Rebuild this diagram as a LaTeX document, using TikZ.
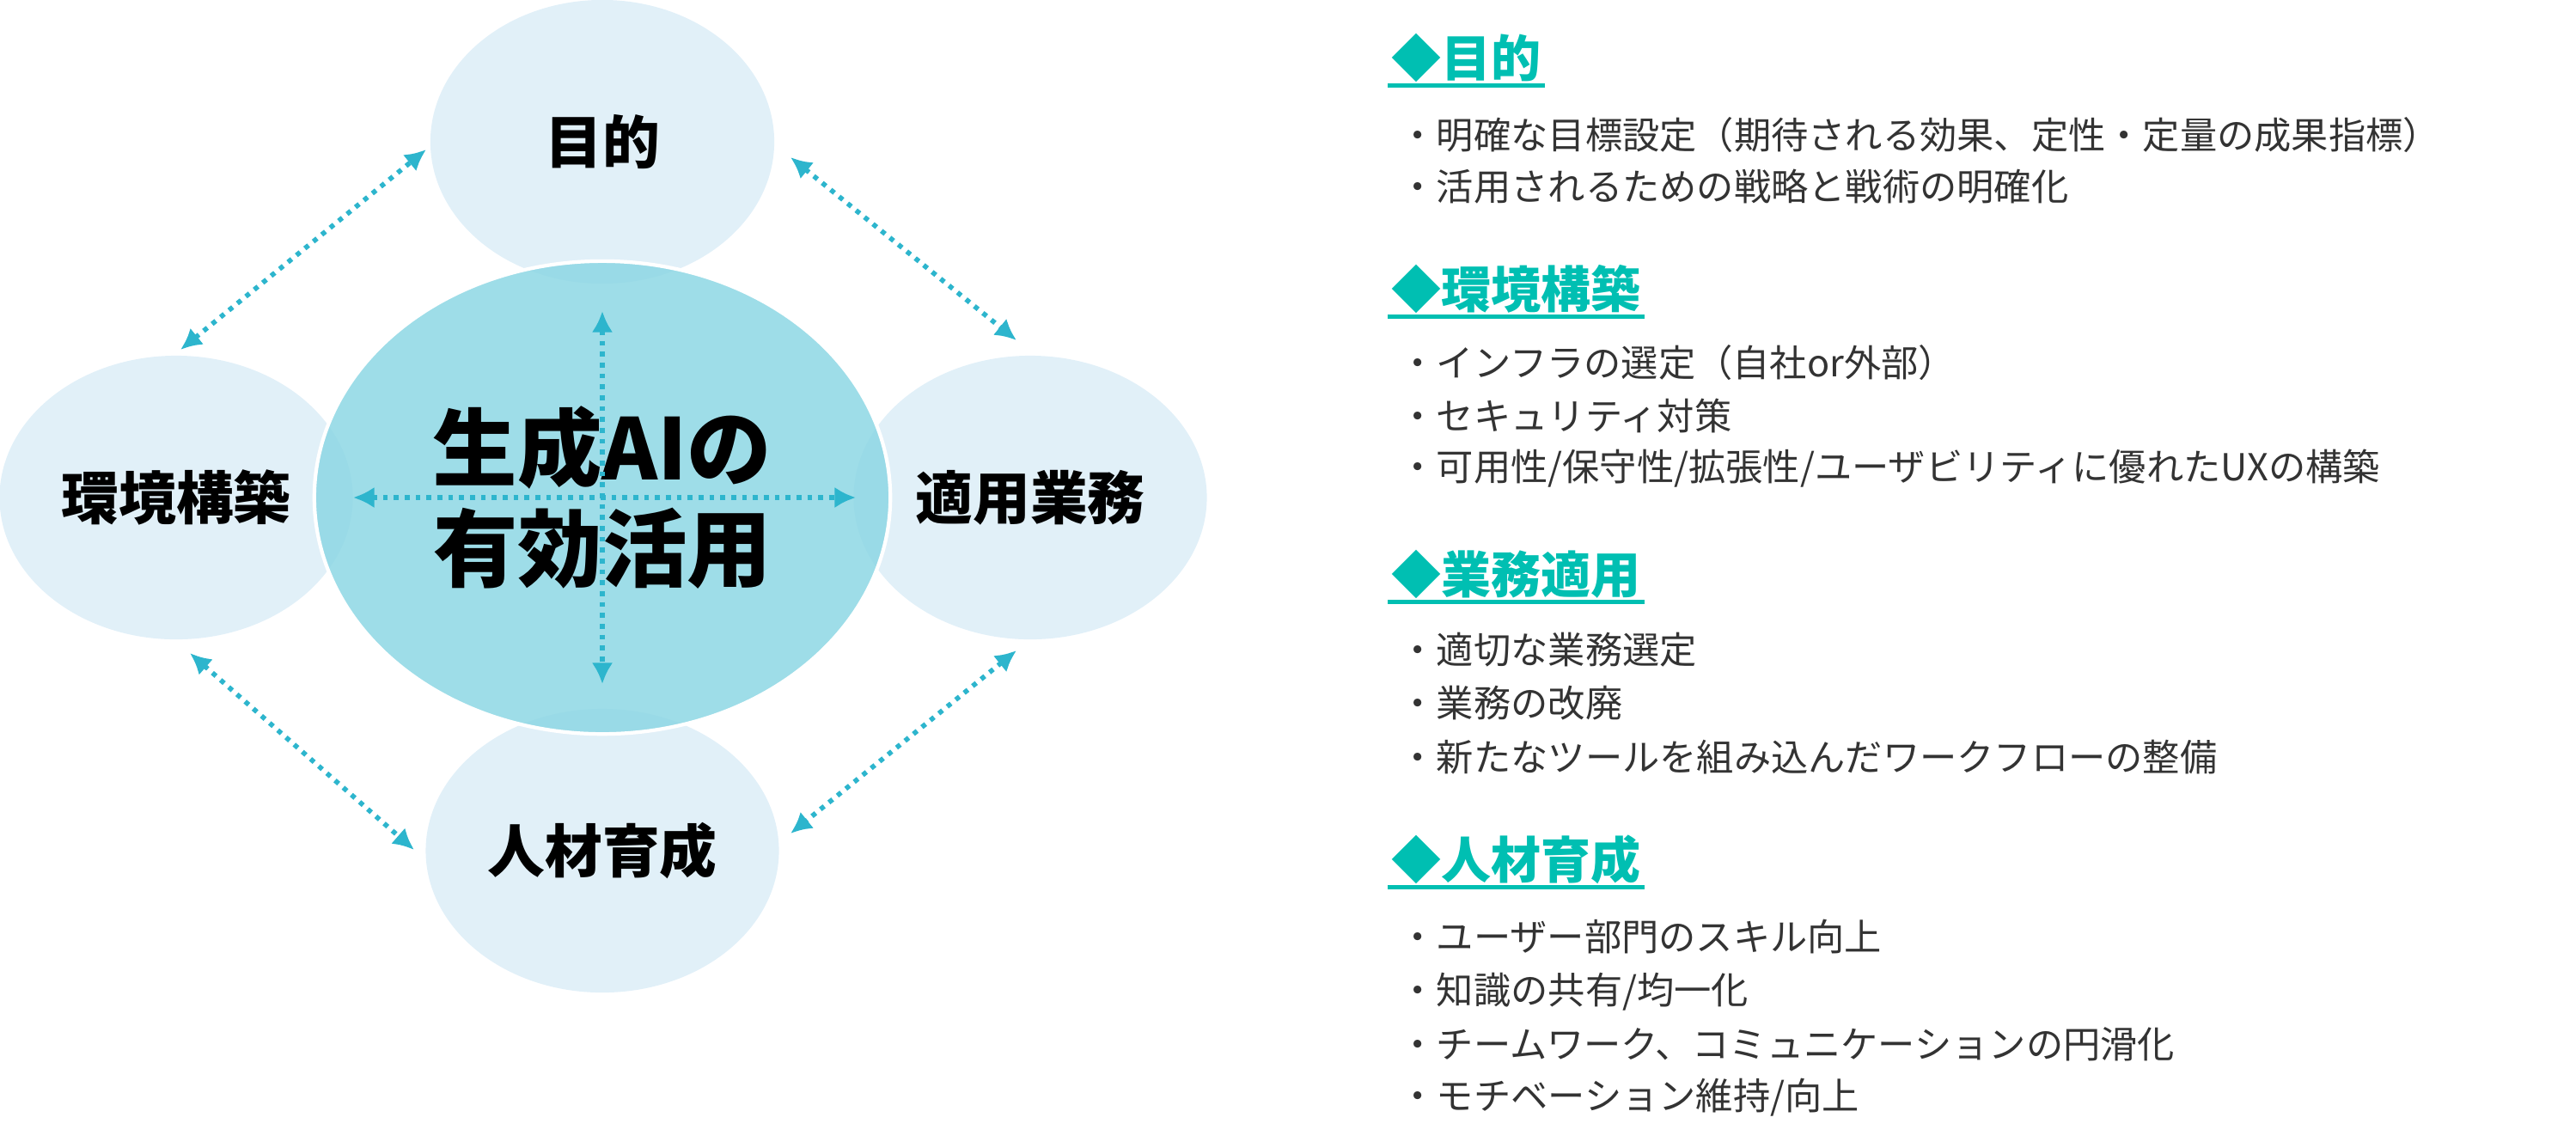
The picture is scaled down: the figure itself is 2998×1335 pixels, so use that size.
\documentclass[tikz,border=0pt]{standalone}
\usepackage{fontspec}
\setmainfont{Noto Sans CJK JP}
\usetikzlibrary{arrows.meta,shapes.geometric}
\definecolor{pale}{HTML}{DCEDF7}
\definecolor{core}{HTML}{8DD7E4}
\definecolor{link}{HTML}{2DB5CD}
\definecolor{teal}{HTML}{00BFB2}
\definecolor{ink}{HTML}{333333}

\begin{document}
\begin{tikzpicture}
    [x=0.01cm, y=-0.01cm,
     satellite/.style={ellipse, fill=pale, fill opacity=0.85, text opacity=1,
       minimum width=4cm, minimum height=3.3cm, font=\fontsize{19}{19}\selectfont\bfseries},
     hub/.style={ellipse, fill=core, fill opacity=0.85, draw=white, line width=1.2pt,
       minimum width=6.7cm, minimum height=5.5cm},
     link/.style={draw=link, line width=1.6pt, dotted, {Latex[length=7pt,width=7pt]}-{Latex[length=7pt,width=7pt]}},
     heading/.style={anchor=west, inner sep=1pt, text=teal, font=\fontsize{16.5}{16.5}\selectfont\bfseries},
     item/.style={anchor=west, inner sep=0pt, text=ink, font=\fontsize{12.3}{12.3}\selectfont}]
  \useasboundingbox (0,0) rectangle (2998,1335);

  \node (goal) [satellite] at (701,165) {目的};
  \node (env)  [satellite] at (205,579) {環境構築};
  \node (ops)  [satellite] at (1199,579) {適用業務};
  \node (hr)   [satellite] at (701,990) {人材育成};
  \node (core) [hub] at (701,579) {};
  \node (title) at (701,579) [align=center, font=\fontsize{28}{33}\selectfont\bfseries] {生成AIの\\有効活用};

  % connectors around
  \coordinate (a1) at (210,407);  \coordinate (a2) at (496,174);
  \coordinate (b1) at (920,183);  \coordinate (b2) at (1183,396);
  \coordinate (c1) at (221,760);  \coordinate (c2) at (482,989);
  \coordinate (d1) at (1183,757); \coordinate (d2) at (920,970);
  \coordinate (v1) at (701,362);  \coordinate (v2) at (701,796);
  \coordinate (h1) at (411,579);  \coordinate (h2) at (996,579);
  \draw[link] (a1) -- (a2);
  \draw[link] (b1) -- (b2);
  \draw[link] (c1) -- (c2);
  \draw[link] (d1) -- (d2);
  \draw[link] (v1) -- (v2);
  \draw[link] (h1) -- (h2);

  % right side text
  \node (g0) [heading] at (1615,67) {◆目的};
  \node (g1) [item] at (1628,157) {・明確な目標設定（期待される効果、定性・定量の成果指標）};
  \node (g2) [item] at (1628,217) {・活用されるための戦略と戦術の明確化};
  \node (e0) [heading] at (1615,336) {◆環境構築};
  \node (e1) [item] at (1628,422) {・インフラの選定（自社or外部）};
  \node (e2) [item] at (1628,484) {・セキュリティ対策};
  \node (e3) [item] at (1628,545) {・可用性/保守性/拡張性/ユーザビリティに優れたUXの構築};
  \node (o0) [heading] at (1615,668) {◆業務適用};
  \node (o1) [item] at (1628,756) {・適切な業務選定};
  \node (o2) [item] at (1628,818) {・業務の改廃};
  \node (o3) [item] at (1628,881) {・新たなツールを組み込んだワークフローの整備};
  \node (r0) [heading] at (1615,1000) {◆人材育成};
  \node (r1) [item] at (1628,1090) {・ユーザー部門のスキル向上};
  \node (r2) [item] at (1628,1154) {・知識の共有/均一化};
  \node (r3) [item] at (1628,1215) {・チームワーク、コミュニケーションの円滑化};
  \node (r4) [item] at (1628,1277) {・モチベーション維持/向上};
  \foreach \h in {g0,e0,o0,r0}
    \draw[teal, line width=1.5pt] (\h.south west) -- (\h.south east);
\end{tikzpicture}
\end{document}
